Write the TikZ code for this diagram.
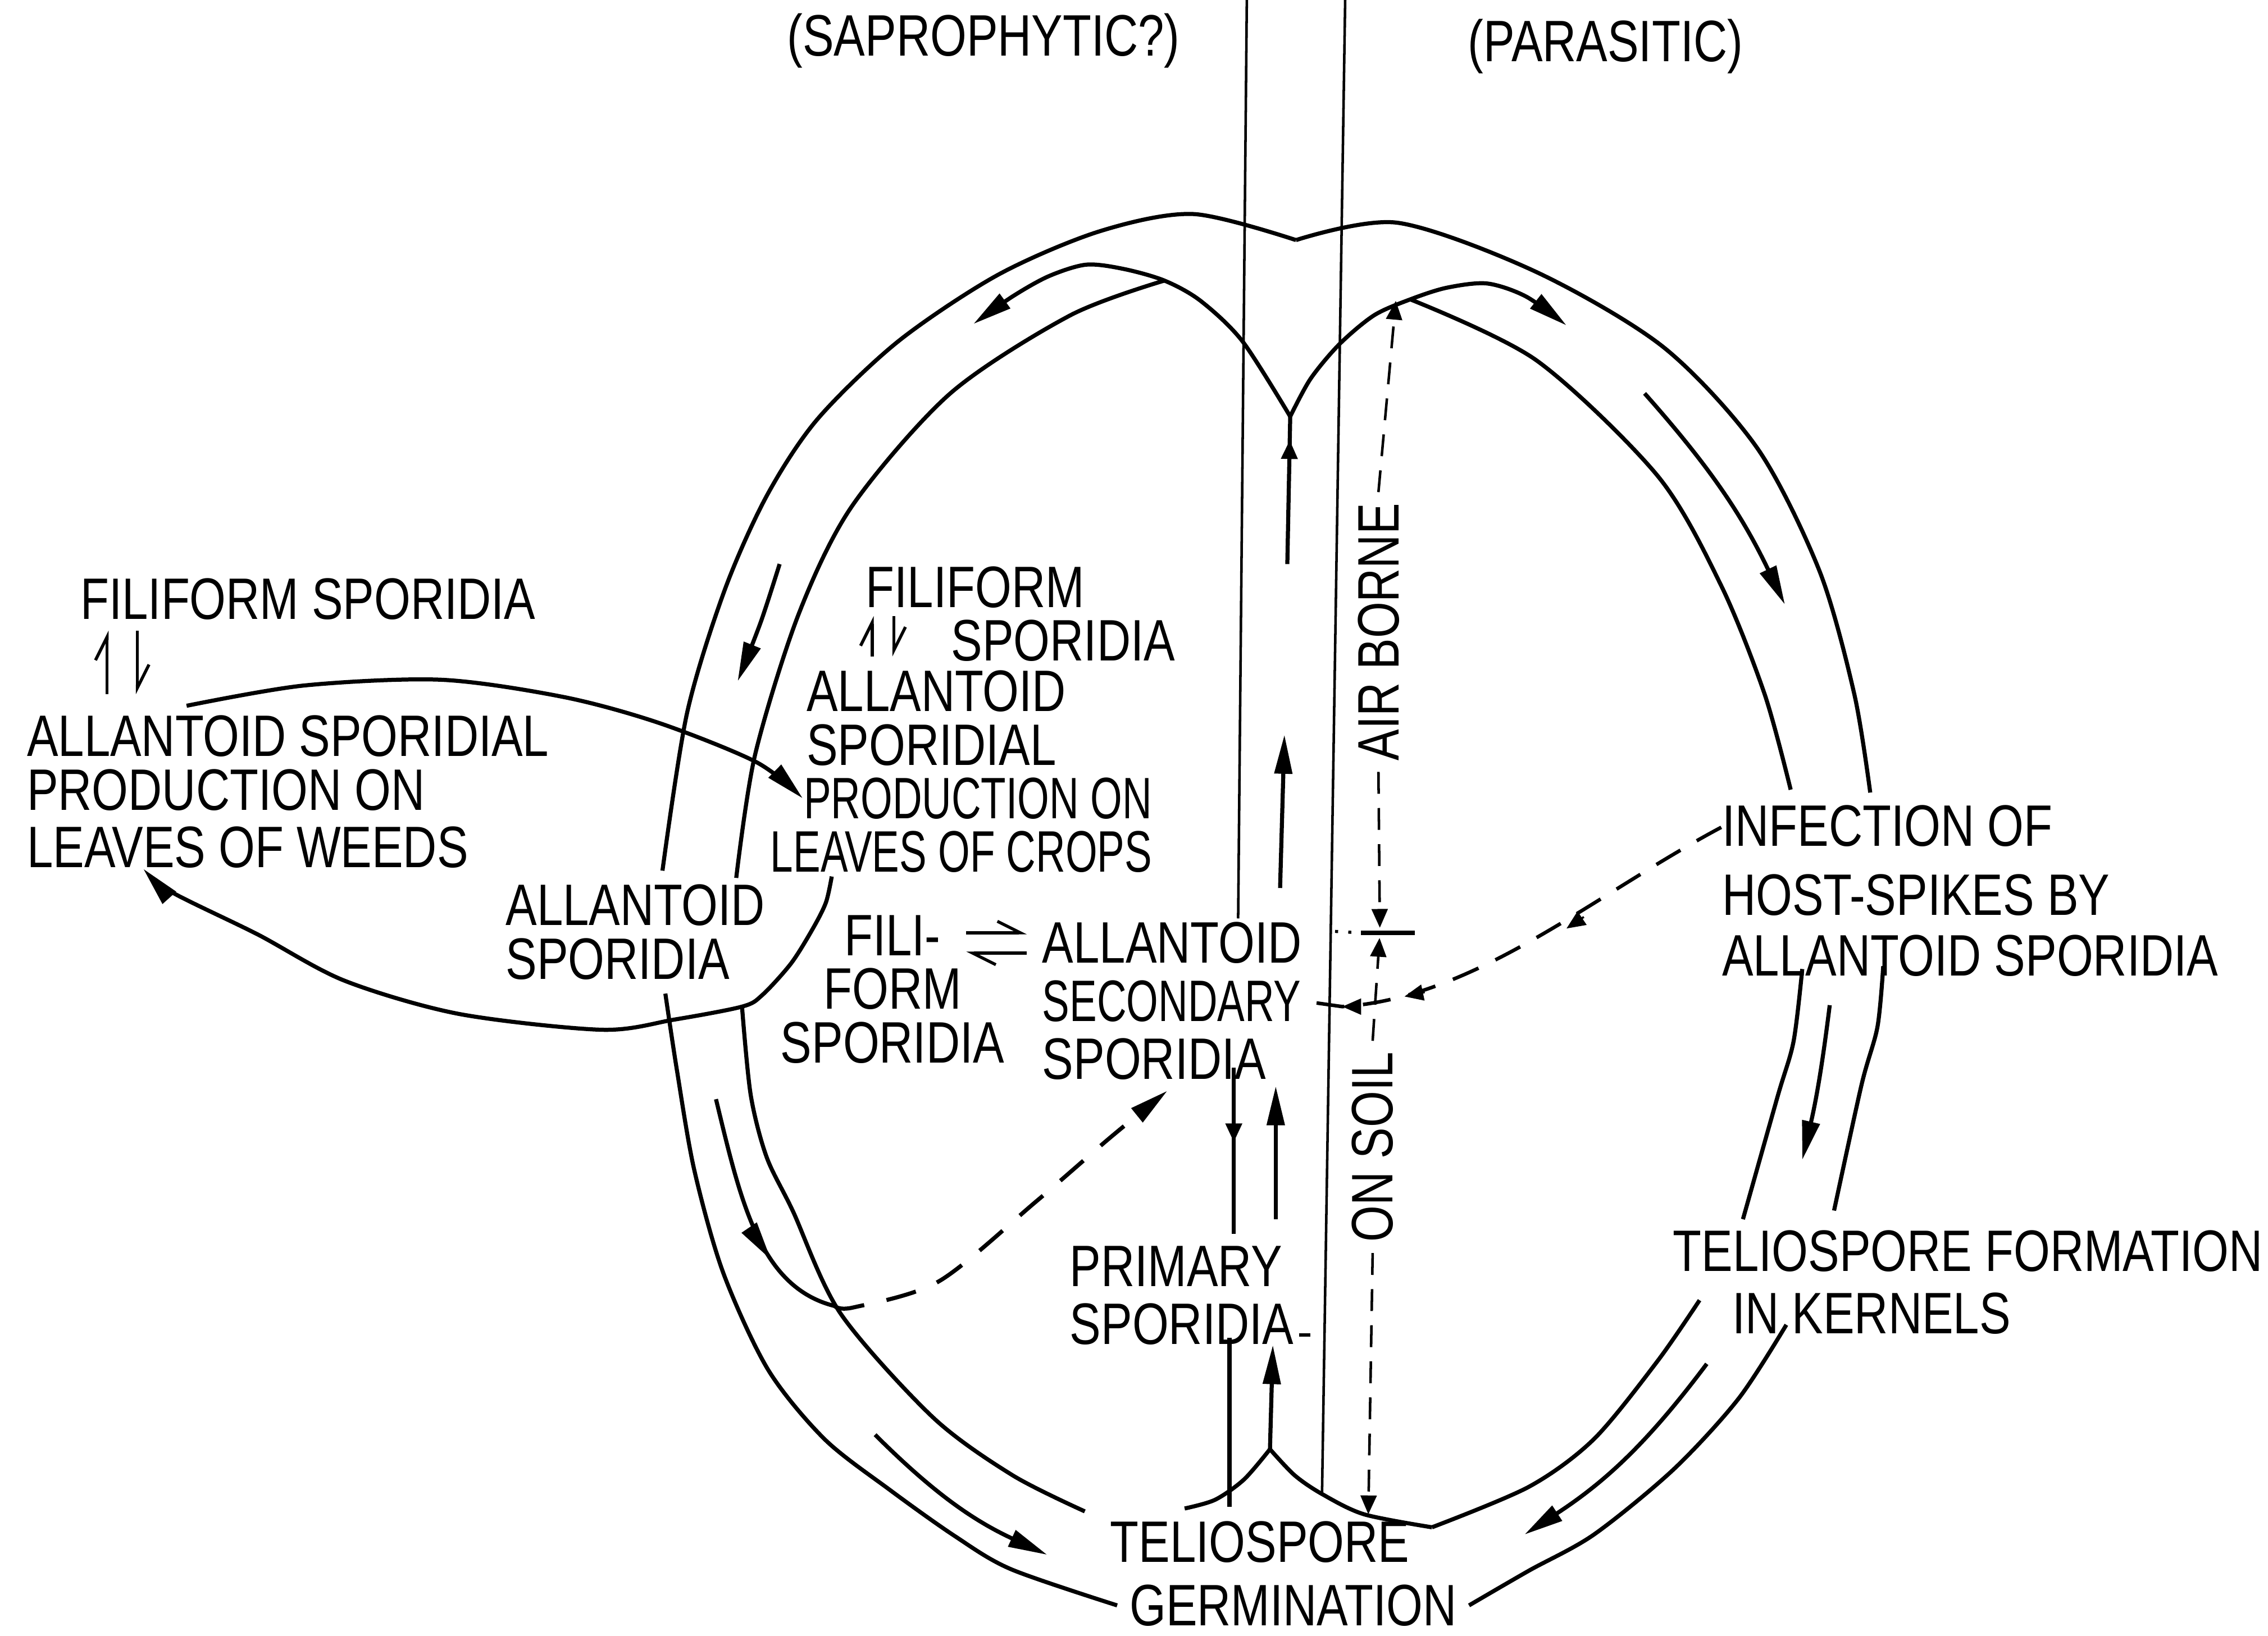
\documentclass[tikz,border=0pt]{standalone}
\usepackage{fontspec}
\usetikzlibrary{arrows.meta,decorations.markings}
\newfontfamily\stencil[FakeStretch=0.8]{Liberation Sans}
\newfontfamily\stencilnarrow[FakeStretch=0.7]{Liberation Sans}
\tikzset{
  lettering/.style={font=\stencil\fontsize{11.5pt}{10.6pt}\selectfont, inner sep=0pt, align=left},
  squeezed/.style={lettering, font=\stencilnarrow\fontsize{11.5pt}{10.6pt}\selectfont},
  track/.style={line width=0.8pt},
  divider/.style={line width=0.5pt},
  flow/.style={track, -{Triangle[length=2.7mm,width=1.2mm]}},
  dimline/.style={line width=0.5pt, dash pattern=on 4.3pt off 2.8pt},
  spread/.style={line width=0.8pt, dash pattern=on 6pt off 4.5pt},
  headat/.style={postaction={decorate}, decoration={markings, mark=at position #1 with {\arrow{Triangle[length=2.7mm,width=1.2mm]}}}},
  tickat/.style={postaction={decorate}, decoration={markings, mark=at position #1 with {\arrow{Triangle[length=1.3mm,width=1.1mm]}}}},
  barb/.style={line width=0.6pt, -{Straight Barb[harpoon, length=1.6mm, width=1.6mm]}}
}
\begin{document}
\begin{tikzpicture}[x=0.01cm, y=-0.01cm]
\useasboundingbox (0,0) rectangle (1568,1131);
% points where the loops meet
\coordinate (topcusp) at (892,288);
\coordinate (botcusp) at (878,1002);
\coordinate (ljoin) at (805,194);
\coordinate (rjoin) at (975,207);
\coordinate (dip) at (896,166);
\coordinate (wjoin) at (513,696);
\coordinate (cross) at (954,645);
% headings
\node[lettering] (sapro) at (680,28) {(SAPROPHYTIC?)};
\node[lettering] (para) at (1110,32) {(PARASITIC)};
% texts round the cycle
\node[lettering, anchor=north west] (wfil) at (55,399) {FILIFORM SPORIDIA};
\node[lettering, anchor=north west] (weeds) at (18,494) {ALLANTOID SPORIDIAL\\PRODUCTION ON\\[0.6pt]LEAVES OF WEEDS};
\node[lettering, anchor=north west] (cfil) at (598,391) {FILIFORM};
\node[lettering, anchor=north west] (cfilsp) at (657,428) {SPORIDIA};
\node[lettering, anchor=north west] (crops) at (557,463) {ALLANTOID\\SPORIDIAL};
\node[squeezed, anchor=north west] (cprod) at (555,537) {PRODUCTION ON};
\node[squeezed, anchor=north west] (cleaves) at (532,574) {LEAVES OF CROPS};
\node[lettering, anchor=north west] (allsp) at (349,611) {ALLANTOID\\SPORIDIA};
\node[lettering, align=center, anchor=north] (fili) at (617,632) {FILI-\\FORM\\SPORIDIA};
\node[lettering, anchor=north west] (second) at (720,637) {ALLANTOID\\[0.8pt]{\stencilnarrow SECONDARY}\\[0.8pt]SPORIDIA};
\node[lettering, anchor=north west] (primary) at (739,861) {PRIMARY\\[0.8pt]SPORIDIA};
\node[lettering] (telio) at (871,1066) {TELIOSPORE};
\node[lettering] (germ) at (894,1110) {GERMINATION};
\node[lettering, anchor=north west] (infect) at (1190,556) {INFECTION OF\\[3pt]HOST-SPIKES BY\\[1.3pt]ALLANTOID SPORIDIA};
\node[lettering, anchor=north west] (form) at (1156,850) {TELIOSPORE FORMATION};
\node[lettering, anchor=north west] (kern) at (1197,893) {IN KERNELS};
\node[lettering, rotate=90, inner sep=2pt] (air) at (953,437) {AIR BORNE};
\node[lettering, rotate=90, inner sep=2pt] (soil) at (949,793) {ON SOIL};
% the two dividers
\draw[divider] (862,0) -- (856,635);
\draw[divider] (930,0) -- (914,1033);
% outer ring
\draw[track] plot[smooth] coordinates {(458,602) (475,493) (501,408) (530,343) (565,290) (621,236) (690,190) (760,160) (825,148) (dip)};
\draw[track] plot[smooth] coordinates {(dip) (966,154) (1062,188) (1150,240) (1215,310) (1258,395) (1282,480) (1293,548)};
\draw[track] plot[smooth] coordinates {(1302,668) (1298,710) (1287,750) (1268,837)};
\draw[track] plot[smooth] coordinates {(1235,916) (1202,967) (1157,1016) (1102,1061) (1057,1086) ([xshift=0.08cm]germ.east)};
\draw[track] plot[smooth] coordinates {(460,687) (468,740) (480,809) (500,880) (531,947) (570,995) (615,1030) (660,1062) (699,1085) ([xshift=-0.08cm]germ.west)};
% inner ring
\draw[track] plot[smooth] coordinates {(ljoin) (740,218) (657,272) (589,350) (552,425) (522,522) (509,607)};
\draw[track] plot[smooth] coordinates {(wjoin) (519,757) (530,800) (548,837) (581,908) (645,980) (700,1020) (750,1045)};
\draw[track] plot[smooth] coordinates {(rjoin) (1062,249) (1146,329) (1190,405) (1220,480) (1238,546)};
\draw[track] plot[smooth] coordinates {(1246,670) (1240,720) (1229,758) (1205,843)};
\draw[track] plot[smooth] coordinates {(1175,899) (1146,941) (1102,995) (1057,1028) (990,1056)};
% cusps at top and bottom
\draw[flow] plot[smooth] coordinates {(topcusp) (859,236) (830,208) (ljoin) (777,186) (751,183) (725,191) (700,205) (673,224)};
\draw[flow] plot[smooth] coordinates {(topcusp) (906,262) (926,238) (950,218) (rjoin) (1000,199) (1028,196) (1055,205) (1083,225)};
\draw[track] plot[smooth] coordinates {(819,1043) (840,1037) (860,1023) (botcusp)};
\draw[track] plot[smooth] coordinates {(botcusp) (895,1020) (914,1033) (943,1047) (990,1056)};
% flow arrows inside the ring
\draw[flow] plot[smooth] coordinates {(539,390) (526,430) (510,471)};
\draw[flow] (1137,272) to[bend left=8] (1234,418);
\draw[flow] (1265,695) to[bend left=3] (1246,802);
\draw[flow] (1180,943) to[bend left=10] (1054,1061);
\draw[flow] (605,992) to[bend right=10] (724,1075);
\draw[track, headat=0.68] (495,760) .. controls (512,830) and (525,890) .. (577,903);
% centre column
\draw[track, tickat=0.84] (890,390) -- (topcusp);
\draw[flow] (885,614) -- (888,508);
\draw[flow] (882,843) -- (882,751);
\draw[track, tickat=0.45] (853,738) -- (853,853);
\draw[flow] (botcusp) -- (880,930);
\draw[track] (850,925) -- (850,1042);
\draw[line width=0.6pt] (898,923) -- (906,923);
% harpoons
\draw[barb] (74,480) -- (74,436);
\draw[barb] (95,436) -- (95,480);
\draw[barb] (603,454) -- (603,426);
\draw[barb] (618,426) -- (618,454);
\draw[barb] (668,645) -- (710,645);
\draw[barb] (710,659) -- (668,659);
% weeds and crops
\draw[flow] plot[smooth] coordinates {([shift={(111,-6)}]weeds.north west) (210,474) (305,470) (390,482) (456,500) (523,527) (cprod.west)};
\draw[flow] plot[smooth] coordinates {([xshift=0.43cm,yshift=-0.02cm]cleaves.south west) (571,624) (562,642) (547,666) (527,688) (wjoin) (466,705) (416,712) (317,701) (238,678) (178,646) (119,617) ([xshift=0.81cm]weeds.south west)};
% dashed spread of sporidia
\draw[spread, -{Triangle[length=2.7mm,width=1.2mm]}] plot[smooth] coordinates {(577,903) (590,904) (649,886) (716,831) (767,787) ([xshift=0.87cm,yshift=-0.07cm]second.south west)};
\draw[line width=0.7pt, dash pattern=on 5.5pt off 3.7pt] ([yshift=-0.16cm]infect.north west) .. controls (1100,620) and (1020,690) .. (928,696) -- (second.east);
\draw[-{Triangle[length=1.3mm,width=1.1mm]}] (1095,634) -- (1083,642);
\draw[-{Triangle[length=1.3mm,width=1.1mm]}] (985,686) -- (971,689);
\draw[-{Triangle[length=1.3mm,width=1.1mm]}] (940,696) -- (928,696);
% air borne / on soil
\draw[dimline, -{Triangle[length=1.3mm,width=1.1mm]}] (air.east) -- (965,208);
\draw[dimline, -{Triangle[length=1.3mm,width=1.1mm]}, shorten >=1pt] (air.west) -- (cross);
\draw[dimline, -{Triangle[length=1.3mm,width=1.1mm]}, shorten >=1pt] (soil.east) -- (cross);
\draw[dimline, -{Triangle[length=1.3mm,width=1.1mm]}] (soil.west) -- (946,1047);
\draw[line width=0.9pt] ([xshift=-0.13cm]cross) -- ([xshift=0.24cm]cross);
\draw[dotted, line width=0.6pt] (923,644) -- ([xshift=-0.13cm]cross);
\end{tikzpicture}
\end{document}
